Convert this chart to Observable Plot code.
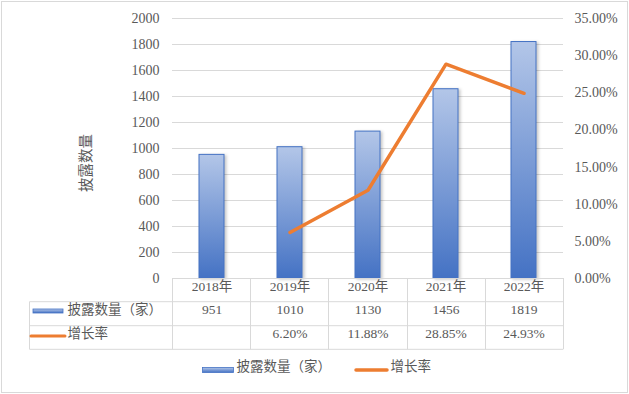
<!DOCTYPE html>
<html><head><meta charset="utf-8">
<script src="https://cdn.jsdelivr.net/npm/d3@7"></script>
<script src="https://cdn.jsdelivr.net/npm/@observablehq/plot@0.6"></script>
<style>
html,body{margin:0;padding:0;background:#fff;}
#chart{width:629px;height:394px;}
</style></head><body><div id="chart"></div>
<script>
// ---- data ----
const years = ["2018年", "2019年", "2020年", "2021年", "2022年"];
const counts = [951, 1010, 1130, 1456, 1819];
const rates = [null, 6.20, 11.88, 28.85, 24.93]; // percent
const countLabels = ["951", "1010", "1130", "1456", "1819"];
const rateLabels = ["", "6.20%", "11.88%", "28.85%", "24.93%"];
const leftTicks = [0, 200, 400, 600, 800, 1000, 1200, 1400, 1600, 1800, 2000];
const rightTicks = [0, 5, 10, 15, 20, 25, 30, 35]; // percent
const seriesNames = ["披露数量（家）", "增长率"];
const yTitle = "披露数量";

const Y_MAX = 2000, R_MAX = 35;
const toY = r => r / R_MAX * Y_MAX;

const rows = years.map((year, i) => ({year, count: counts[i], rate: rates[i], countLabel: countLabels[i], rateLabel: rateLabels[i]}));

const BLUE = "#4472c4", ORANGE = "#ED7D31", GRID = "#d9d9d9", TEXT = "#595959";
const FONT = '"Liberation Serif", "Noto Sans CJK SC", serif';
const CJK = '"Noto Sans CJK SC", sans-serif';

// table row offsets below the frame bottom
const ROW = [0, 23.7, 47.7, 71.3];

const defs = () => {
  const g = d3.create("svg:defs");
  const grad = g.append("linearGradient").attr("id", "barGrad").attr("x1", 0).attr("y1", 0).attr("x2", 0).attr("y2", 1);
  grad.append("stop").attr("offset", "0%").attr("stop-color", "#b3c6e8");
  grad.append("stop").attr("offset", "100%").attr("stop-color", "#4472c4");
  return g.node();
};

const tableGrid = (index, scales, values, dims) => {
  const {width, height, marginLeft: L, marginRight: R, marginBottom: B} = dims;
  const x0 = L, x1 = width - R, y0 = height - B;
  const n = years.length, step = (x1 - x0) / n;
  const tx = 29.5;
  const g = d3.create("svg:g").attr("stroke", GRID).attr("stroke-width", 1).attr("fill", "none");
  g.append("line").attr("x1", x0).attr("x2", x1).attr("y1", y0 + 0.5).attr("y2", y0 + 0.5);
  for (let r = 1; r < ROW.length; r++) {
    g.append("line").attr("x1", tx).attr("x2", x1).attr("y1", y0 + ROW[r]).attr("y2", y0 + ROW[r]);
  }
  g.append("line").attr("x1", tx).attr("x2", tx).attr("y1", y0 + ROW[1]).attr("y2", y0 + ROW[3]);
  for (let k = 0; k <= n; k++) {
    const x = Math.round(x0 + k * step) + 0.5;
    g.append("line").attr("x1", x).attr("x2", x).attr("y1", y0).attr("y2", y0 + ROW[3]);
  }
  // row-label swatches
  g.append("rect").attr("x", 33).attr("y", y0 + 31).attr("width", 30).attr("height", 4)
    .attr("fill", "url(#barGrad)").attr("stroke", BLUE).attr("stroke-width", 0.8);
  g.append("line").attr("x1", 31).attr("x2", 65).attr("y1", y0 + 58).attr("y2", y0 + 58)
    .attr("stroke", ORANGE).attr("stroke-width", 3).attr("stroke-linecap", "round");
  // legend swatches
  g.append("rect").attr("x", 202.5).attr("y", y0 + 89.5).attr("width", 31).attr("height", 5)
    .attr("fill", "url(#barGrad)").attr("stroke", BLUE).attr("stroke-width", 0.8);
  g.append("line").attr("x1", 356).attr("x2", 387).attr("y1", y0 + 92).attr("y2", y0 + 92)
    .attr("stroke", ORANGE).attr("stroke-width", 3.5).attr("stroke-linecap", "round");
  // outer border
  g.append("rect").attr("x", 1.5).attr("y", 1.5).attr("width", width - 3).attr("height", height - 3);
  return g.node();
};

const titleMark = (index, scales, values, dims) => {
  const {marginTop: T, height, marginBottom: B} = dims;
  const cy = (T + height - B) / 2 + 15;
  const g = d3.create("svg:g");
  g.append("text").attr("transform", `translate(86,${cy}) rotate(-90)`)
    .attr("text-anchor", "middle").attr("dy", "0.35em")
    .attr("font-family", CJK).attr("font-size", 14.5).attr("fill", TEXT)
    .text(yTitle);
  return g.node();
};

const plot = Plot.plot({
  width: 629,
  height: 394,
  marginTop: 18,
  marginBottom: 116,
  marginLeft: 172,
  marginRight: 66,
  style: {fontFamily: FONT, fontSize: "13.5px", color: TEXT, background: "#fff", overflow: "visible"},
  x: {type: "band", domain: years, paddingInner: 0.68, paddingOuter: 0.34, axis: null},
  y: {domain: [0, Y_MAX], axis: null},
  marks: [
    defs,
    Plot.gridY(leftTicks, {stroke: GRID, strokeOpacity: 1, strokeWidth: 1}),
    Plot.axisY(leftTicks, {anchor: "left", tickSize: 0, tickPadding: 13, label: null, fontSize: 14, tickFormat: d => String(d)}),
    Plot.axisY(rightTicks.map(toY), {anchor: "right", tickSize: 0, tickPadding: 11, label: null, fontSize: 14,
      tickFormat: v => (v / Y_MAX * R_MAX).toFixed(2) + "%"}),
    Plot.barY(rows, {x: "year", y: "count", fill: "url(#barGrad)", stroke: BLUE, strokeWidth: 1, imageFilter: "drop-shadow(2px 1px 1.5px rgba(0,0,0,0.22))"}),
    Plot.line(rows.filter(d => d.rate != null), {x: "year", y: d => toY(d.rate), stroke: ORANGE, strokeWidth: 3.5}),
    tableGrid,
    // table rows
    Plot.text(rows, {x: "year", text: "year", frameAnchor: "bottom", dy: 12}),
    Plot.text(rows, {x: "year", text: "countLabel", frameAnchor: "bottom", dy: 35.7}),
    Plot.text(rows, {x: "year", text: "rateLabel", frameAnchor: "bottom", dy: 59.5}),
    // row labels
    Plot.text([seriesNames[0]], {text: d => d, frameAnchor: "bottom-left", dx: -105, dy: 35.7, textAnchor: "start", fontFamily: CJK, fontSize: 13.5}),
    Plot.text([seriesNames[1]], {text: d => d, frameAnchor: "bottom-left", dx: -105, dy: 59.5, textAnchor: "start", fontFamily: CJK, fontSize: 13.5}),
    // legend
    Plot.text([seriesNames[0]], {text: d => d, frameAnchor: "bottom-left", dx: 64, dy: 92, textAnchor: "start", fontFamily: CJK, fontSize: 13.5}),
    Plot.text([seriesNames[1]], {text: d => d, frameAnchor: "bottom-left", dx: 218, dy: 92, textAnchor: "start", fontFamily: CJK, fontSize: 13.5}),
    // y title
    titleMark
  ]
});
document.getElementById("chart").appendChild(plot);
</script>
</body></html>
